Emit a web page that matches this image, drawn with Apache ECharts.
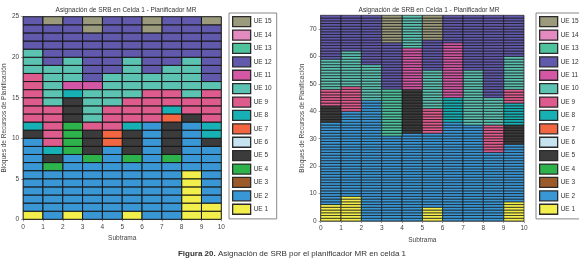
<!DOCTYPE html>
<html>
<head>
<meta charset="utf-8">
<script src="https://cdn.jsdelivr.net/npm/echarts@6/dist/echarts.min.js"></script>
<style>
  html, body { margin: 0; padding: 0; background: #fff; }
  #chart { width: 579px; height: 258px; }
</style>
</head>
<body>
<div id="chart"></div>
<script>
// UE names and colours (legend order is reversed: UE 15 on top)
const ueNames = ['UE 1', 'UE 2', 'UE 3', 'UE 4', 'UE 5', 'UE 6', 'UE 7', 'UE 8',
  'UE 9', 'UE 10', 'UE 11', 'UE 12', 'UE 13', 'UE 14', 'UE 15'];
const ueColors = ['#f2ee4c', '#3a97d6', '#9a5a2a', '#2db24c', '#3b3b3b', '#c6e4ef', '#f26742',
  '#17b1b5', '#dd5b8d', '#5cc3b3', '#d457a6', '#6159ab', '#4ec19d', '#e38ac1', '#9b9a7c'];

const subframes = [0, 1, 2, 3, 4, 5, 6, 7, 8, 9];

// Allocation per subframe, bottom to top: [UE number, number of blocks]
const leftAlloc = [
  [[1, 1], [2, 9], [5, 1], [8, 1], [9, 6], [10, 3], [12, 4]],
  [[2, 6], [4, 1], [5, 1], [8, 1], [9, 5], [10, 5], [12, 5], [15, 1]],
  [[1, 1], [2, 7], [4, 4], [5, 3], [8, 1], [11, 1], [10, 3], [12, 5]],
  [[2, 7], [4, 1], [5, 3], [9, 1], [10, 4], [11, 1], [12, 6], [15, 2]],
  [[2, 9], [7, 2], [9, 3], [10, 4], [12, 7]],
  [[1, 1], [2, 6], [4, 1], [5, 3], [8, 1], [9, 3], [10, 5], [12, 5]],
  [[2, 12], [9, 4], [10, 2], [12, 5], [15, 2]],
  [[2, 7], [4, 1], [5, 4], [7, 1], [8, 1], [9, 2], [10, 3], [12, 6]],
  [[1, 6], [2, 6], [5, 1], [9, 2], [10, 5], [12, 5]],
  [[1, 2], [2, 7], [5, 1], [8, 2], [9, 4], [10, 1], [12, 7], [15, 1]]
];

const rightAlloc = [
  [[1, 6], [2, 30], [5, 6], [9, 6], [10, 11], [12, 16]],
  [[1, 9], [2, 31], [9, 9], [10, 13], [12, 13]],
  [[2, 44], [10, 13], [12, 18]],
  [[2, 31], [13, 17], [12, 17], [15, 10]],
  [[2, 32], [5, 16], [11, 15], [10, 12]],
  [[1, 5], [2, 27], [9, 9], [10, 14], [12, 11], [15, 9]],
  [[2, 36], [8, 9], [11, 20], [12, 10]],
  [[2, 35], [10, 20], [12, 20]],
  [[2, 25], [9, 10], [10, 10], [12, 30]],
  [[1, 7], [2, 21], [5, 7], [8, 8], [9, 5], [10, 12], [12, 15]]
];

const titleText = 'Asignación de SRB en Celda 1 - Planificador MR';
const font = "'Liberation Sans Narrow', 'Liberation Sans', Arial, sans-serif";

// one cell per block: [subframe, block index] grouped by UE
function cellsByUe(alloc) {
  const out = ueNames.map(() => []);
  alloc.forEach((col, i) => {
    let row = 0;
    col.forEach(([ue, n]) => {
      for (let k = 0; k < n; k++) {
        out[ue - 1].push([subframes[i], row]);
        row++;
      }
    });
  });
  return out;
}

function cellRenderer(lw) {
  return function (params, api) {
    const p0 = api.coord([api.value(0), api.value(1)]);
    const p1 = api.coord([api.value(0) + 1, api.value(1) + 1]);
    return {
      type: 'rect',
      shape: {x: p0[0], y: p1[1], width: p1[0] - p0[0], height: p0[1] - p1[1]},
      style: api.style({stroke: '#151515', lineWidth: lw})
    };
  };
}

function makeSeries(alloc, gridIdx, lw) {
  return cellsByUe(alloc).map((cells, i) => ({
    name: ueNames[i],
    type: 'custom',
    xAxisIndex: gridIdx,
    yAxisIndex: gridIdx,
    renderItem: cellRenderer(lw),
    itemStyle: {color: ueColors[i]},
    encode: {x: 0, y: 1},
    data: cells
  }));
}

const axisText = {fontSize: 6.5, color: '#444', fontFamily: font};
const legendOrder = ueNames.slice().reverse();

function xAx(idx) {
  return {
    type: 'value', gridIndex: idx, min: 0, max: 10, interval: 1,
    name: 'Subtrama', nameLocation: 'middle', nameGap: 13,
    nameTextStyle: axisText,
    axisLine: {lineStyle: {color: '#999'}},
    axisTick: {length: 2, lineStyle: {color: '#999'}},
    axisLabel: Object.assign({margin: 4}, axisText),
    splitLine: {show: false}
  };
}

function yAx(idx, max, step) {
  return {
    type: 'value', gridIndex: idx, min: 0, max: max, interval: step,
    name: 'Bloques de Recursos de Planificación', nameLocation: 'middle', nameGap: 12,
    nameTextStyle: axisText,
    axisLine: {show: true, lineStyle: {color: '#999'}},
    axisTick: {length: 2, lineStyle: {color: '#999'}},
    axisLabel: Object.assign({margin: 4, showMaxLabel: max % step === 0}, axisText),
    splitLine: {show: false}
  };
}

function legendAt(left) {
  return {
    data: legendOrder,
    orient: 'vertical',
    left: left, top: 13,
    padding: [3, 5, 4, 3],
    itemWidth: 18, itemHeight: 10, itemGap: 2.1,
    borderColor: '#888', borderWidth: 1,
    icon: 'rect',
    itemStyle: {borderColor: '#2a2a2a', borderWidth: 1.3},
    textStyle: {fontSize: 6.5, color: '#333', fontFamily: font, padding: [0, 0, 0, -2]},
    selectedMode: false
  };
}

const chart = echarts.init(document.getElementById('chart'), null, {renderer: 'canvas'});
chart.setOption({
  animation: false,
  backgroundColor: '#fff',
  title: [
    {text: titleText, left: 121, top: 2, textAlign: 'center',
      textStyle: {fontSize: 6.5, fontWeight: 'normal', color: '#333', fontFamily: font}},
    {text: titleText, left: 424, top: 2, textAlign: 'center',
      textStyle: {fontSize: 6.5, fontWeight: 'normal', color: '#333', fontFamily: font}},
    {text: '{b|Figura 20.} Asignación de SRB por el planificador MR en celda 1',
      left: 287, top: 245, textAlign: 'center',
      textStyle: {fontSize: 8, fontWeight: 'normal', color: '#333', fontFamily: font,
        rich: {b: {fontSize: 8, fontWeight: 'bold', color: '#333', fontFamily: font}}}}
  ],
  legend: [legendAt(229), legendAt(536)],
  grid: [
    {left: 20.7, right: 357.7, top: 16.7, bottom: 38.7},
    {left: 320.7, right: 55, top: 15.3, bottom: 37}
  ],
  xAxis: [xAx(0), xAx(1)],
  yAxis: [yAx(0, 25, 5), yAx(1, 75, 10)],
  series: makeSeries(leftAlloc, 0, 1).concat(makeSeries(rightAlloc, 1, 0.7))
});
</script>
</body>
</html>
